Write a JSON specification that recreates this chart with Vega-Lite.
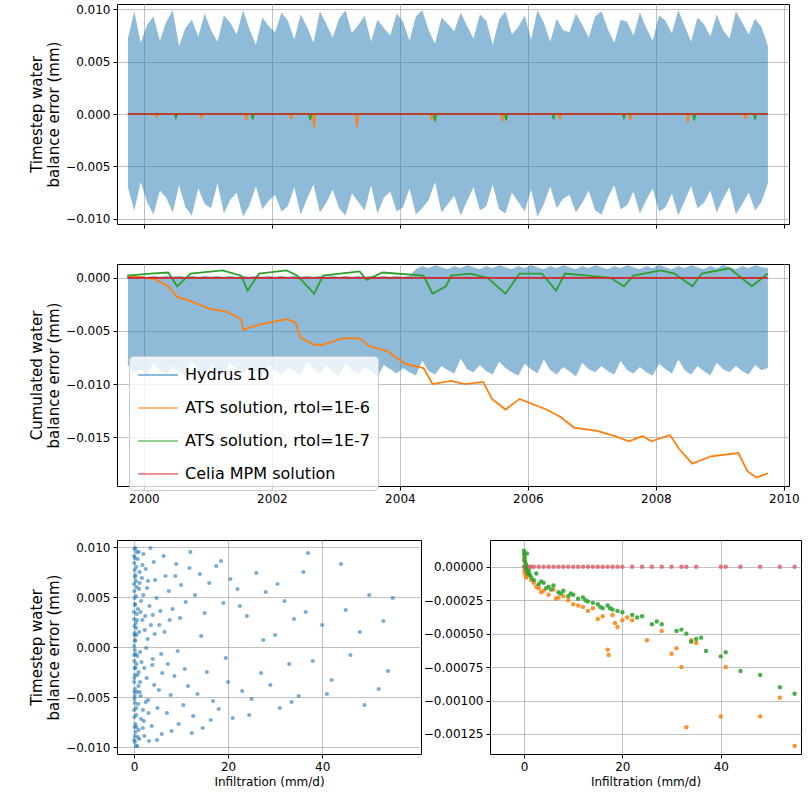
{
  "$schema": "https://vega.github.io/schema/vega-lite/v6.json",
  "background": "white",
  "padding": {"left": 29, "top": 2, "right": 4, "bottom": 5},
  "spacing": 34,
  "resolve": {"scale": {"color": "independent"}, "legend": {"color": "independent"}},
  "config": {
    "font": "DejaVu Sans",
    "view": {"stroke": "black", "strokeWidth": 1},
    "axis": {"gridColor": "#b0b0b0", "gridWidth": 0.8, "domain": false, "tickColor": "black", "labelColor": "black", "labelFontSize": 12, "titleFontSize": 15, "titleFontWeight": "normal", "titleColor": "black", "labelPadding": 3, "tickSize": 4}
  },
  "datasets": {
    "hyd": [
      {"t":1999.75,"a":-0.0070,"b":0.0072,"c":-0.0082,"d":0.0002},{"t":1999.85,"a":-0.0092,"b":0.0098,"c":-0.0090,"d":0.0001},{"t":1999.95,"a":-0.0065,"b":0.0068,"c":-0.0086,"d":0.0002},{"t":2000.05,"a":-0.0084,"b":0.0085,"c":-0.0093,"d":0.0001},{"t":2000.15,"a":-0.0096,"b":0.0093,"c":-0.0080,"d":0.0002},
      {"t":2000.25,"a":-0.0073,"b":0.0070,"c":-0.0088,"d":0.0001},{"t":2000.35,"a":-0.0080,"b":0.0088,"c":-0.0091,"d":0.0002},{"t":2000.45,"a":-0.0094,"b":0.0099,"c":-0.0084,"d":0.0001},{"t":2000.55,"a":-0.0068,"b":0.0065,"c":-0.0089,"d":0.0002},{"t":2000.65,"a":-0.0089,"b":0.0082,"c":-0.0092,"d":0.0001},
      {"t":2000.75,"a":-0.0097,"b":0.0090,"c":-0.0079,"d":0.0002},{"t":2000.85,"a":-0.0071,"b":0.0074,"c":-0.0087,"d":0.0001},{"t":2000.95,"a":-0.0086,"b":0.0096,"c":-0.0090,"d":0.0002},{"t":2001.05,"a":-0.0090,"b":0.0080,"c":-0.0083,"d":0.0001},{"t":2001.15,"a":-0.0066,"b":0.0069,"c":-0.0088,"d":0.0002},
      {"t":2001.25,"a":-0.0095,"b":0.0094,"c":-0.0092,"d":0.0001},{"t":2001.35,"a":-0.0082,"b":0.0087,"c":-0.0081,"d":0.0002},{"t":2001.45,"a":-0.0075,"b":0.0076,"c":-0.0086,"d":0.0001},{"t":2001.55,"a":-0.0098,"b":0.0099,"c":-0.0090,"d":0.0002},{"t":2001.65,"a":-0.0087,"b":0.0081,"c":-0.0084,"d":0.0001},
      {"t":2001.75,"a":-0.0069,"b":0.0066,"c":-0.0089,"d":0.0002},{"t":2001.85,"a":-0.0091,"b":0.0092,"c":-0.0093,"d":0.0001},{"t":2001.95,"a":-0.0083,"b":0.0084,"c":-0.0082,"d":0.0002},{"t":2002.05,"a":-0.0077,"b":0.0078,"c":-0.0087,"d":0.0001},{"t":2002.15,"a":-0.0093,"b":0.0097,"c":-0.0091,"d":0.0002},
      {"t":2002.25,"a":-0.0088,"b":0.0089,"c":-0.0085,"d":0.0001},{"t":2002.35,"a":-0.0070,"b":0.0071,"c":-0.0088,"d":0.0002},{"t":2002.45,"a":-0.0096,"b":0.0095,"c":-0.0092,"d":0.0001},{"t":2002.55,"a":-0.0081,"b":0.0083,"c":-0.0080,"d":0.0002},{"t":2002.65,"a":-0.0067,"b":0.0068,"c":-0.0086,"d":0.0001},
      {"t":2002.75,"a":-0.0094,"b":0.0098,"c":-0.0090,"d":0.0002},{"t":2002.85,"a":-0.0085,"b":0.0086,"c":-0.0083,"d":0.0001},{"t":2002.95,"a":-0.0072,"b":0.0073,"c":-0.0089,"d":0.0002},{"t":2003.05,"a":-0.0090,"b":0.0091,"c":-0.0092,"d":0.0001},{"t":2003.15,"a":-0.0097,"b":0.0099,"c":-0.0081,"d":0.0002},
      {"t":2003.25,"a":-0.0076,"b":0.0077,"c":-0.0087,"d":0.0001},{"t":2003.35,"a":-0.0084,"b":0.0085,"c":-0.0091,"d":0.0002},{"t":2003.45,"a":-0.0092,"b":0.0094,"c":-0.0084,"d":0.0001},{"t":2003.55,"a":-0.0068,"b":0.0069,"c":-0.0088,"d":0.0002},{"t":2003.65,"a":-0.0095,"b":0.0090,"c":-0.0093,"d":0.0001},
      {"t":2003.75,"a":-0.0080,"b":0.0082,"c":-0.0082,"d":0.0002},{"t":2003.85,"a":-0.0074,"b":0.0075,"c":-0.0086,"d":0.0001},{"t":2003.95,"a":-0.0093,"b":0.0096,"c":-0.0090,"d":0.0002},{"t":2004.05,"a":-0.0089,"b":0.0088,"c":-0.0085,"d":0.0001},{"t":2004.15,"a":-0.0071,"b":0.0070,"c":-0.0089,"d":0.0002},
      {"t":2004.25,"a":-0.0096,"b":0.0093,"c":-0.0092,"d":0.0008},{"t":2004.35,"a":-0.0090,"b":0.0099,"c":-0.0078,"d":0.0011},{"t":2004.45,"a":-0.0082,"b":0.0080,"c":-0.0088,"d":0.0009},{"t":2004.55,"a":-0.0065,"b":0.0067,"c":-0.0091,"d":0.0012},{"t":2004.65,"a":-0.0094,"b":0.0092,"c":-0.0083,"d":0.0010},
      {"t":2004.75,"a":-0.0086,"b":0.0086,"c":-0.0087,"d":0.0008},{"t":2004.85,"a":-0.0078,"b":0.0079,"c":-0.0090,"d":0.0011},{"t":2004.95,"a":-0.0097,"b":0.0097,"c":-0.0076,"d":0.0009},{"t":2005.05,"a":-0.0083,"b":0.0084,"c":-0.0086,"d":0.0012},{"t":2005.15,"a":-0.0070,"b":0.0072,"c":-0.0089,"d":0.0010},
      {"t":2005.25,"a":-0.0092,"b":0.0095,"c":-0.0082,"d":0.0008},{"t":2005.35,"a":-0.0088,"b":0.0089,"c":-0.0088,"d":0.0011},{"t":2005.45,"a":-0.0067,"b":0.0066,"c":-0.0091,"d":0.0009},{"t":2005.55,"a":-0.0091,"b":0.0090,"c":-0.0079,"d":0.0012},{"t":2005.65,"a":-0.0095,"b":0.0098,"c":-0.0085,"d":0.0010},
      {"t":2005.75,"a":-0.0075,"b":0.0076,"c":-0.0089,"d":0.0008},{"t":2005.85,"a":-0.0084,"b":0.0083,"c":-0.0092,"d":0.0011},{"t":2005.95,"a":-0.0093,"b":0.0094,"c":-0.0081,"d":0.0009},{"t":2006.05,"a":-0.0072,"b":0.0071,"c":-0.0086,"d":0.0012},{"t":2006.15,"a":-0.0098,"b":0.0099,"c":-0.0090,"d":0.0010},
      {"t":2006.25,"a":-0.0086,"b":0.0087,"c":-0.0077,"d":0.0008},{"t":2006.35,"a":-0.0069,"b":0.0069,"c":-0.0087,"d":0.0011},{"t":2006.45,"a":-0.0090,"b":0.0091,"c":-0.0091,"d":0.0009},{"t":2006.55,"a":-0.0081,"b":0.0080,"c":-0.0084,"d":0.0012},{"t":2006.65,"a":-0.0077,"b":0.0078,"c":-0.0088,"d":0.0010},
      {"t":2006.75,"a":-0.0094,"b":0.0096,"c":-0.0093,"d":0.0008},{"t":2006.85,"a":-0.0085,"b":0.0085,"c":-0.0080,"d":0.0011},{"t":2006.95,"a":-0.0073,"b":0.0073,"c":-0.0086,"d":0.0009},{"t":2007.05,"a":-0.0092,"b":0.0093,"c":-0.0089,"d":0.0012},{"t":2007.15,"a":-0.0096,"b":0.0098,"c":-0.0083,"d":0.0010},
      {"t":2007.25,"a":-0.0080,"b":0.0081,"c":-0.0088,"d":0.0008},{"t":2007.35,"a":-0.0068,"b":0.0068,"c":-0.0091,"d":0.0011},{"t":2007.45,"a":-0.0091,"b":0.0090,"c":-0.0078,"d":0.0009},{"t":2007.55,"a":-0.0087,"b":0.0088,"c":-0.0087,"d":0.0012},{"t":2007.65,"a":-0.0074,"b":0.0075,"c":-0.0090,"d":0.0010},
      {"t":2007.75,"a":-0.0095,"b":0.0097,"c":-0.0084,"d":0.0008},{"t":2007.85,"a":-0.0082,"b":0.0082,"c":-0.0089,"d":0.0011},{"t":2007.95,"a":-0.0071,"b":0.0070,"c":-0.0092,"d":0.0009},{"t":2008.05,"a":-0.0093,"b":0.0094,"c":-0.0081,"d":0.0012},{"t":2008.15,"a":-0.0089,"b":0.0089,"c":-0.0086,"d":0.0010},
      {"t":2008.25,"a":-0.0076,"b":0.0077,"c":-0.0090,"d":0.0008},{"t":2008.35,"a":-0.0097,"b":0.0099,"c":-0.0077,"d":0.0011},{"t":2008.45,"a":-0.0083,"b":0.0084,"c":-0.0087,"d":0.0009},{"t":2008.55,"a":-0.0069,"b":0.0069,"c":-0.0091,"d":0.0012},{"t":2008.65,"a":-0.0090,"b":0.0092,"c":-0.0083,"d":0.0010},
      {"t":2008.75,"a":-0.0085,"b":0.0086,"c":-0.0088,"d":0.0008},{"t":2008.85,"a":-0.0073,"b":0.0074,"c":-0.0092,"d":0.0011},{"t":2008.95,"a":-0.0094,"b":0.0095,"c":-0.0080,"d":0.0009},{"t":2009.05,"a":-0.0081,"b":0.0080,"c":-0.0086,"d":0.0012},{"t":2009.15,"a":-0.0070,"b":0.0072,"c":-0.0089,"d":0.0010},
      {"t":2009.25,"a":-0.0096,"b":0.0098,"c":-0.0083,"d":0.0008},{"t":2009.35,"a":-0.0086,"b":0.0087,"c":-0.0088,"d":0.0011},{"t":2009.45,"a":-0.0075,"b":0.0076,"c":-0.0091,"d":0.0009},{"t":2009.55,"a":-0.0092,"b":0.0091,"c":-0.0082,"d":0.0012},{"t":2009.65,"a":-0.0084,"b":0.0083,"c":-0.0087,"d":0.0010},
      {"t":2009.75,"a":-0.0066,"b":0.0065,"c":-0.0085,"d":0.0009}
    ],
    "ts": [
      {"t":1999.75,"s":"o","v":0},{"t":2000.18,"s":"o","v":0},{"t":2000.2,"s":"o","v":-0.0003},{"t":2000.22,"s":"o","v":0},{"t":2000.88,"s":"o","v":0},{"t":2000.9,"s":"o","v":-0.0004},{"t":2000.92,"s":"o","v":0},{"t":2001.58,"s":"o","v":0},{"t":2001.6,"s":"o","v":-0.0006},{"t":2001.62,"s":"o","v":0},{"t":2002.28,"s":"o","v":0},{"t":2002.3,"s":"o","v":-0.0005},{"t":2002.32,"s":"o","v":0},{"t":2002.64,"s":"o","v":0},{"t":2002.66,"s":"o","v":-0.0013},{"t":2002.68,"s":"o","v":0},{"t":2003.31,"s":"o","v":0},{"t":2003.33,"s":"o","v":-0.0012},{"t":2003.35,"s":"o","v":0},{"t":2004.48,"s":"o","v":0},{"t":2004.5,"s":"o","v":-0.0006},{"t":2004.52,"s":"o","v":0},{"t":2005.58,"s":"o","v":0},{"t":2005.6,"s":"o","v":-0.0007},{"t":2005.62,"s":"o","v":0},{"t":2006.48,"s":"o","v":0},{"t":2006.5,"s":"o","v":-0.0005},{"t":2006.52,"s":"o","v":0},{"t":2007.58,"s":"o","v":0},{"t":2007.6,"s":"o","v":-0.0006},{"t":2007.62,"s":"o","v":0},{"t":2008.48,"s":"o","v":0},{"t":2008.5,"s":"o","v":-0.0008},{"t":2008.52,"s":"o","v":0},{"t":2009.38,"s":"o","v":0},{"t":2009.4,"s":"o","v":-0.0005},{"t":2009.42,"s":"o","v":0},{"t":2009.75,"s":"o","v":0},
      {"t":1999.75,"s":"g","v":0},{"t":2000.48,"s":"g","v":0},{"t":2000.5,"s":"g","v":-0.0004},{"t":2000.52,"s":"g","v":0},{"t":2001.68,"s":"g","v":0},{"t":2001.7,"s":"g","v":-0.0005},{"t":2001.72,"s":"g","v":0},{"t":2002.58,"s":"g","v":0},{"t":2002.6,"s":"g","v":-0.0006},{"t":2002.62,"s":"g","v":0},{"t":2004.53,"s":"g","v":0},{"t":2004.55,"s":"g","v":-0.0007},{"t":2004.57,"s":"g","v":0},{"t":2005.64,"s":"g","v":0},{"t":2005.66,"s":"g","v":-0.0006},{"t":2005.68,"s":"g","v":0},{"t":2006.38,"s":"g","v":0},{"t":2006.4,"s":"g","v":-0.0005},{"t":2006.42,"s":"g","v":0},{"t":2007.48,"s":"g","v":0},{"t":2007.5,"s":"g","v":-0.0004},{"t":2007.52,"s":"g","v":0},{"t":2008.58,"s":"g","v":0},{"t":2008.6,"s":"g","v":-0.0006},{"t":2008.62,"s":"g","v":0},{"t":2009.53,"s":"g","v":0},{"t":2009.55,"s":"g","v":-0.0005},{"t":2009.57,"s":"g","v":0},{"t":2009.75,"s":"g","v":0},
      {"t":1999.75,"s":"r","v":0},{"t":2009.75,"s":"r","v":0}
    ],
    "cum": [
      {"t":1999.74,"s":"ATS solution, rtol=1E-6","v":0.0002},{"t":2000.16,"s":"ATS solution, rtol=1E-6","v":-0.0001},{"t":2000.38,"s":"ATS solution, rtol=1E-6","v":-0.0008},{"t":2000.52,"s":"ATS solution, rtol=1E-6","v":-0.0018},{"t":2000.73,"s":"ATS solution, rtol=1E-6","v":-0.0022},{"t":2001.02,"s":"ATS solution, rtol=1E-6","v":-0.0029},{"t":2001.3,"s":"ATS solution, rtol=1E-6","v":-0.0032},{"t":2001.52,"s":"ATS solution, rtol=1E-6","v":-0.0039},{"t":2001.55,"s":"ATS solution, rtol=1E-6","v":-0.0049},{"t":2001.8,"s":"ATS solution, rtol=1E-6","v":-0.0044},{"t":2002.23,"s":"ATS solution, rtol=1E-6","v":-0.0039},{"t":2002.37,"s":"ATS solution, rtol=1E-6","v":-0.0042},{"t":2002.44,"s":"ATS solution, rtol=1E-6","v":-0.0056},{"t":2002.66,"s":"ATS solution, rtol=1E-6","v":-0.0063},{"t":2002.8,"s":"ATS solution, rtol=1E-6","v":-0.0063},{"t":2003.09,"s":"ATS solution, rtol=1E-6","v":-0.0057},{"t":2003.37,"s":"ATS solution, rtol=1E-6","v":-0.0057},{"t":2003.51,"s":"ATS solution, rtol=1E-6","v":-0.0064},{"t":2003.8,"s":"ATS solution, rtol=1E-6","v":-0.0069},{"t":2004.08,"s":"ATS solution, rtol=1E-6","v":-0.0081},{"t":2004.37,"s":"ATS solution, rtol=1E-6","v":-0.0085},{"t":2004.51,"s":"ATS solution, rtol=1E-6","v":-0.0100},{"t":2004.8,"s":"ATS solution, rtol=1E-6","v":-0.0097},{"t":2005.01,"s":"ATS solution, rtol=1E-6","v":-0.0100},{"t":2005.3,"s":"ATS solution, rtol=1E-6","v":-0.0098},{"t":2005.44,"s":"ATS solution, rtol=1E-6","v":-0.0114},{"t":2005.65,"s":"ATS solution, rtol=1E-6","v":-0.0124},{"t":2005.87,"s":"ATS solution, rtol=1E-6","v":-0.0114},{"t":2006.29,"s":"ATS solution, rtol=1E-6","v":-0.0124},{"t":2006.51,"s":"ATS solution, rtol=1E-6","v":-0.0131},{"t":2006.72,"s":"ATS solution, rtol=1E-6","v":-0.0141},{"t":2007.08,"s":"ATS solution, rtol=1E-6","v":-0.0144},{"t":2007.36,"s":"ATS solution, rtol=1E-6","v":-0.0149},{"t":2007.58,"s":"ATS solution, rtol=1E-6","v":-0.0154},{"t":2007.79,"s":"ATS solution, rtol=1E-6","v":-0.0149},{"t":2007.93,"s":"ATS solution, rtol=1E-6","v":-0.0154},{"t":2008.22,"s":"ATS solution, rtol=1E-6","v":-0.0148},{"t":2008.36,"s":"ATS solution, rtol=1E-6","v":-0.0161},{"t":2008.57,"s":"ATS solution, rtol=1E-6","v":-0.0175},{"t":2008.86,"s":"ATS solution, rtol=1E-6","v":-0.0168},{"t":2009.29,"s":"ATS solution, rtol=1E-6","v":-0.0165},{"t":2009.43,"s":"ATS solution, rtol=1E-6","v":-0.0182},{"t":2009.57,"s":"ATS solution, rtol=1E-6","v":-0.0188},{"t":2009.75,"s":"ATS solution, rtol=1E-6","v":-0.0184},
      {"t":1999.74,"s":"ATS solution, rtol=1E-7","v":0.0002},{"t":2000.1,"s":"ATS solution, rtol=1E-7","v":0.0004},{"t":2000.38,"s":"ATS solution, rtol=1E-7","v":0.0005},{"t":2000.52,"s":"ATS solution, rtol=1E-7","v":-0.0008},{"t":2000.73,"s":"ATS solution, rtol=1E-7","v":0.0004},{"t":2001.23,"s":"ATS solution, rtol=1E-7","v":0.0007},{"t":2001.52,"s":"ATS solution, rtol=1E-7","v":0.0002},{"t":2001.62,"s":"ATS solution, rtol=1E-7","v":-0.0012},{"t":2001.8,"s":"ATS solution, rtol=1E-7","v":0.0004},{"t":2002.23,"s":"ATS solution, rtol=1E-7","v":0.0007},{"t":2002.4,"s":"ATS solution, rtol=1E-7","v":0.0002},{"t":2002.66,"s":"ATS solution, rtol=1E-7","v":-0.0015},{"t":2002.8,"s":"ATS solution, rtol=1E-7","v":0.0002},{"t":2003.37,"s":"ATS solution, rtol=1E-7","v":0.0006},{"t":2003.48,"s":"ATS solution, rtol=1E-7","v":-0.0002},{"t":2003.73,"s":"ATS solution, rtol=1E-7","v":0.0005},{"t":2004.37,"s":"ATS solution, rtol=1E-7","v":0.0002},{"t":2004.51,"s":"ATS solution, rtol=1E-7","v":-0.0015},{"t":2004.72,"s":"ATS solution, rtol=1E-7","v":-0.0008},{"t":2004.8,"s":"ATS solution, rtol=1E-7","v":0.0002},{"t":2005.1,"s":"ATS solution, rtol=1E-7","v":0.0004},{"t":2005.37,"s":"ATS solution, rtol=1E-7","v":0.0},{"t":2005.65,"s":"ATS solution, rtol=1E-7","v":-0.0015},{"t":2005.87,"s":"ATS solution, rtol=1E-7","v":0.0004},{"t":2006.22,"s":"ATS solution, rtol=1E-7","v":0.0004},{"t":2006.44,"s":"ATS solution, rtol=1E-7","v":-0.0012},{"t":2006.58,"s":"ATS solution, rtol=1E-7","v":0.0004},{"t":2006.94,"s":"ATS solution, rtol=1E-7","v":0.0002},{"t":2007.29,"s":"ATS solution, rtol=1E-7","v":0.0},{"t":2007.5,"s":"ATS solution, rtol=1E-7","v":-0.0008},{"t":2007.65,"s":"ATS solution, rtol=1E-7","v":0.0002},{"t":2008.08,"s":"ATS solution, rtol=1E-7","v":0.0007},{"t":2008.29,"s":"ATS solution, rtol=1E-7","v":0.0004},{"t":2008.57,"s":"ATS solution, rtol=1E-7","v":-0.0008},{"t":2008.72,"s":"ATS solution, rtol=1E-7","v":0.0004},{"t":2009.15,"s":"ATS solution, rtol=1E-7","v":0.0009},{"t":2009.5,"s":"ATS solution, rtol=1E-7","v":-0.0008},{"t":2009.75,"s":"ATS solution, rtol=1E-7","v":0.0004},
      {"t":1999.74,"s":"Celia MPM solution","v":0},{"t":2009.75,"s":"Celia MPM solution","v":0}
    ],
    "sc": [
      {"x":0.1,"y":0.0098},{"x":0.2,"y":-0.0095},{"x":0.3,"y":0.0072},{"x":0.5,"y":-0.0068},{"x":0.4,"y":0.0051},{"x":0.2,"y":-0.0042},{"x":0.6,"y":0.0033},{"x":0.3,"y":-0.0021},{"x":0.1,"y":0.0012},{"x":0.7,"y":-0.0009},{"x":0.8,"y":0.0088},{"x":1,"y":-0.0083},{"x":1.2,"y":0.0064},{"x":0.9,"y":-0.0057},{"x":1.5,"y":0.0046},{"x":1.3,"y":-0.0035},{"x":1.8,"y":0.0027},{"x":1.6,"y":-0.0015},{"x":2,"y":0.0093},{"x":2.2,"y":-0.0089},{"x":2.5,"y":0.0078},{"x":2.1,"y":-0.0074},{"x":2.8,"y":0.0059},{"x":3,"y":-0.0053},{"x":3.3,"y":0.0041},{"x":2.7,"y":-0.0031},{"x":3.6,"y":0.0022},{"x":4,"y":-0.0012},{"x":4.2,"y":0.0085},{"x":3.8,"y":-0.0079},{"x":4.5,"y":0.0067},{"x":5,"y":-0.0061},{"x":4.8,"y":0.0049},{"x":5.3,"y":-0.0043},{"x":5.6,"y":0.0036},{"x":6,"y":-0.0026},{"x":6.3,"y":0.0091},{"x":5.9,"y":-0.0087},{"x":6.7,"y":0.0071},{"x":7,"y":-0.0066},{"x":7.4,"y":0.0056},{"x":7.8,"y":-0.0048},{"x":8.2,"y":0.0038},{"x":8.6,"y":-0.0029},{"x":9,"y":0.0083},{"x":9.5,"y":-0.0077},{"x":10,"y":0.0062},{"x":10.5,"y":-0.0058},{"x":11,"y":0.0045},{"x":11.5,"y":-0.0039},{"x":12,"y":0.0095},{"x":12.6,"y":-0.0069},{"x":13,"y":0.0052},{"x":13.5,"y":-0.0047},{"x":14,"y":0.0073},{"x":14.6,"y":-0.0081},{"x":15,"y":0.0034},{"x":15.5,"y":-0.0025},{"x":16,"y":0.0064},{"x":16.8,"y":-0.0054},{"x":17.5,"y":0.0081},{"x":18,"y":-0.0062},{"x":19,"y":0.0044},{"x":20,"y":-0.0035},{"x":20.5,"y":0.0068},{"x":21,"y":-0.0071},{"x":22,"y":0.0058},{"x":23,"y":-0.0044},{"x":24,"y":0.0031},{"x":25,"y":-0.0052},{"x":26,"y":0.0074},{"x":27,"y":-0.0026},{"x":28,"y":0.0055},{"x":29,"y":-0.0038},{"x":30,"y":0.0012},{"x":31,"y":-0.0061},{"x":32,"y":0.0046},{"x":33,"y":-0.0017},{"x":34,"y":0.0028},{"x":35,"y":-0.0049},{"x":36,"y":0.0075},{"x":37,"y":0.0094},{"x":38,"y":-0.0014},{"x":40,"y":0.0022},{"x":42,"y":-0.0033},{"x":44,"y":0.0083},{"x":46,"y":-0.0008},{"x":48,"y":0.0015},{"x":50,"y":0.0052},{"x":52,"y":-0.0042},{"x":53,"y":0.0026},{"x":55,"y":0.0049},{"x":0.05,"y":0.0001},{"x":0.15,"y":-0.0003},{"x":0.25,"y":0.0006},{"x":0.35,"y":-0.0007},{"x":0.45,"y":0.0019},{"x":0.55,"y":-0.0017},{"x":0.65,"y":0.0027},{"x":0.75,"y":-0.0028},{"x":0.85,"y":0.0038},{"x":0.95,"y":-0.0039},{"x":1.1,"y":0.0058},{"x":1.4,"y":-0.0049},{"x":1.7,"y":0.0069},{"x":1.9,"y":-0.0063},{"x":2.3,"y":0.0017},{"x":2.6,"y":-0.0001},{"x":2.9,"y":0.0008},{"x":3.2,"y":-0.0094},{"x":3.5,"y":0.0099},{"x":3.9,"y":-0.0018},{"x":4.4,"y":0.0013},{"x":4.9,"y":-0.0093},{"x":5.4,"y":0.0022},{"x":5.8,"y":-0.0007},{"x":6.5,"y":0.0015},{"x":7.2,"y":-0.0017},{"x":7.6,"y":0.0027},{"x":8,"y":-0.0084},{"x":8.8,"y":0.0071},{"x":9.3,"y":-0.0004},{"x":9.8,"y":0.0029},{"x":10.8,"y":-0.0022},{"x":11.8,"y":0.0079},{"x":12.3,"y":-0.0086},{"x":14.3,"y":0.0011},{"x":16.3,"y":-0.0073},{"x":18.5,"y":0.0086},{"x":19.5,"y":-0.0011},{"x":22.5,"y":0.0041},{"x":24.5,"y":-0.0068},{"x":27.5,"y":0.0007},{"x":30.5,"y":0.0063},{"x":33.5,"y":-0.0055},{"x":36.5,"y":0.0035},{"x":41,"y":-0.0047},{"x":45,"y":0.0037},{"x":49,"y":-0.0058},{"x":54,"y":-0.0024},{"x":0.12,"y":-0.0052},{"x":0.22,"y":0.0043},{"x":0.32,"y":-0.0085},{"x":0.42,"y":0.0066},{"x":0.18,"y":0.0089},{"x":0.28,"y":-0.0077},{"x":0.38,"y":0.0024},{"x":0.48,"y":-0.0061},{"x":0.6,"y":0.0095},{"x":0.7,"y":-0.0099},{"x":0.02,"y":0.0035},{"x":0.08,"y":-0.0031},{"x":0.3,"y":0.0099},{"x":0.4,"y":-0.0099},
      {"x":0.05,"y":0.0091},{"x":0.1,"y":0.0084},{"x":0.15,"y":0.0077},{"x":0.2,"y":0.0070},{"x":0.05,"y":0.0063},{"x":0.1,"y":0.0056},{"x":0.15,"y":0.0049},{"x":0.2,"y":0.0042},{"x":0.05,"y":0.0028},{"x":0.1,"y":0.0021},{"x":0.15,"y":0.0014},{"x":0.2,"y":0.0007},{"x":0.05,"y":-0.0008},{"x":0.1,"y":-0.0014},{"x":0.15,"y":-0.0021},{"x":0.2,"y":-0.0028},{"x":0.05,"y":-0.0035},{"x":0.1,"y":-0.0045},{"x":0.15,"y":-0.0049},{"x":0.2,"y":-0.0056},{"x":0.05,"y":-0.0063},{"x":0.1,"y":-0.0070},{"x":0.15,"y":-0.0080},{"x":0.2,"y":-0.0089},{"x":0.05,"y":-0.0093},{"x":1.0,"y":0.0095},{"x":1.2,"y":0.0075},{"x":1.4,"y":0.0035},{"x":1.1,"y":0.0015},{"x":1.3,"y":-0.0005},{"x":1.0,"y":-0.0025},{"x":1.2,"y":-0.0045},{"x":1.5,"y":-0.0072},{"x":1.1,"y":-0.0092},{"x":1.8,"y":0.0082},{"x":2.0,"y":0.0052},{"x":2.4,"y":0.0031},{"x":2.2,"y":-0.0021},{"x":2.5,"y":-0.0055},{"x":1.9,"y":-0.0081},{"x":3.0,"y":0.0066},{"x":3.1,"y":-0.0066},{"x":4.0,"y":0.0032},{"x":4.3,"y":-0.0038},{"x":0.5,"y":0.0080},{"x":0.6,"y":0.0060},{"x":0.5,"y":0.0012},{"x":0.6,"y":-0.0045},{"x":0.5,"y":-0.0080},{"x":0.8,"y":-0.0090}
    ],
    "sr": [
      {"s":"r","x":0,"y":0},{"s":"r","x":0.3,"y":0},{"s":"r","x":0.6,"y":0},{"s":"r","x":1,"y":0},{"s":"r","x":1.5,"y":0},{"s":"r","x":2,"y":0},{"s":"r","x":3,"y":0},{"s":"r","x":4,"y":0},{"s":"r","x":5,"y":0},{"s":"r","x":6,"y":0},{"s":"r","x":7,"y":0},{"s":"r","x":8,"y":0},{"s":"r","x":9,"y":0},{"s":"r","x":10,"y":0},{"s":"r","x":11,"y":0},{"s":"r","x":12,"y":0},{"s":"r","x":13,"y":0},{"s":"r","x":14,"y":0},{"s":"r","x":15,"y":0},{"s":"r","x":16,"y":0},{"s":"r","x":17,"y":0},{"s":"r","x":18,"y":0},{"s":"r","x":19,"y":0},{"s":"r","x":20,"y":0},{"s":"r","x":22,"y":0},{"s":"r","x":24,"y":0},{"s":"r","x":26,"y":0},{"s":"r","x":28,"y":0},{"s":"r","x":30,"y":0},{"s":"r","x":32,"y":0},{"s":"r","x":33,"y":0},{"s":"r","x":35,"y":0},{"s":"r","x":40,"y":0},{"s":"r","x":41,"y":0},{"s":"r","x":44,"y":0},{"s":"r","x":48,"y":0},{"s":"r","x":52,"y":0},{"s":"r","x":55,"y":0},
      {"s":"o","x":0,"y":0.00005},{"s":"o","x":0.2,"y":-0.00005},{"s":"o","x":0.5,"y":-0.00008},{"s":"o","x":1,"y":-0.00006},{"s":"o","x":2,"y":-0.00012},{"s":"o","x":3,"y":-0.00016},{"s":"o","x":4,"y":-0.00018},{"s":"o","x":5,"y":-0.00021},{"s":"o","x":6,"y":-0.00017},{"s":"o","x":7,"y":-0.00023},{"s":"o","x":8,"y":-0.00022},{"s":"o","x":9,"y":-0.00025},{"s":"o","x":10,"y":-0.00028},{"s":"o","x":12,"y":-0.0003},{"s":"o","x":14,"y":-0.00031},{"s":"o","x":15,"y":-0.00039},{"s":"o","x":16,"y":-0.00037},{"s":"o","x":17,"y":-0.00062},{"s":"o","x":17.2,"y":-0.00066},{"s":"o","x":18,"y":-0.00036},{"s":"o","x":19,"y":-0.00045},{"s":"o","x":20,"y":-0.0004},{"s":"o","x":21,"y":-0.00038},{"s":"o","x":22,"y":-0.0004},{"s":"o","x":25,"y":-0.00055},{"s":"o","x":28,"y":-0.00048},{"s":"o","x":30,"y":-0.00065},{"s":"o","x":31,"y":-0.00061},{"s":"o","x":32,"y":-0.00075},{"s":"o","x":33,"y":-0.0012},{"s":"o","x":34,"y":-0.00055},{"s":"o","x":35,"y":-0.00057},{"s":"o","x":40,"y":-0.00112},{"s":"o","x":41,"y":-0.00075},{"s":"o","x":48,"y":-0.00112},{"s":"o","x":52,"y":-0.00098},{"s":"o","x":55,"y":-0.00134},{"s":"o","x":0.1,"y":-0.00003},{"s":"o","x":0.4,"y":-0.00007},{"s":"o","x":1.5,"y":-0.00010},{"s":"o","x":2.5,"y":-0.00015},{"s":"o","x":3.5,"y":-0.00019},{"s":"o","x":6.5,"y":-0.00024},{"s":"o","x":11,"y":-0.00029},{"s":"o","x":13,"y":-0.00033},{"s":"o","x":18.5,"y":-0.00042},
      {"s":"g","x":0,"y":0.00012},{"s":"g","x":0.1,"y":0.00008},{"s":"g","x":0.2,"y":0.00004},{"s":"g","x":0.3,"y":0},{"s":"g","x":0.5,"y":-0.00002},{"s":"g","x":0.6,"y":0.0001},{"s":"g","x":0.8,"y":-0.00005},{"s":"g","x":1,"y":-0.00003},{"s":"g","x":1.5,"y":-0.00008},{"s":"g","x":2,"y":-0.0001},{"s":"g","x":2.5,"y":-0.00005},{"s":"g","x":3,"y":-0.00013},{"s":"g","x":4,"y":-0.00012},{"s":"g","x":5,"y":-0.00015},{"s":"g","x":6,"y":-0.00014},{"s":"g","x":7,"y":-0.00019},{"s":"g","x":8,"y":-0.00018},{"s":"g","x":9,"y":-0.00022},{"s":"g","x":10,"y":-0.00021},{"s":"g","x":11,"y":-0.00024},{"s":"g","x":12,"y":-0.00023},{"s":"g","x":13,"y":-0.00026},{"s":"g","x":14,"y":-0.00027},{"s":"g","x":15,"y":-0.00028},{"s":"g","x":16,"y":-0.00031},{"s":"g","x":17,"y":-0.00029},{"s":"g","x":18,"y":-0.00032},{"s":"g","x":19,"y":-0.00033},{"s":"g","x":20,"y":-0.00034},{"s":"g","x":22,"y":-0.00036},{"s":"g","x":23,"y":-0.00038},{"s":"g","x":24,"y":-0.00037},{"s":"g","x":26,"y":-0.00043},{"s":"g","x":27,"y":-0.00041},{"s":"g","x":28,"y":-0.00043},{"s":"g","x":31,"y":-0.00048},{"s":"g","x":32,"y":-0.00047},{"s":"g","x":33,"y":-0.0005},{"s":"g","x":34,"y":-0.00056},{"s":"g","x":35,"y":-0.00054},{"s":"g","x":36,"y":-0.00053},{"s":"g","x":37,"y":-0.00063},{"s":"g","x":40,"y":-0.00067},{"s":"g","x":41,"y":-0.00064},{"s":"g","x":44,"y":-0.00078},{"s":"g","x":48,"y":-0.00081},{"s":"g","x":52,"y":-0.0009},{"s":"g","x":55,"y":-0.00095},{"s":"g","x":0.05,"y":0.00010},{"s":"g","x":0.15,"y":0.00006},{"s":"g","x":0.4,"y":0.00002},{"s":"g","x":0.7,"y":-0.00004},{"s":"g","x":1.2,"y":-0.00006},{"s":"g","x":3.5,"y":-0.00011},{"s":"g","x":4.5,"y":-0.00016},{"s":"g","x":5.5,"y":-0.00017},{"s":"g","x":7.5,"y":-0.0002},{"s":"g","x":9.5,"y":-0.00020},{"s":"g","x":12.5,"y":-0.00025},{"s":"g","x":15.5,"y":-0.0003},{"s":"g","x":17.5,"y":-0.00031}
    ]
  },
  "vconcat": [
    {
      "width": 672, "height": 220,
      "layer": [
        {
          "data": {"name": "hyd"},
          "mark": {"type": "area", "color": "#1f77b4", "opacity": 0.5},
          "encoding": {
            "x": {"field": "t", "type": "quantitative", "scale": {"domain": [1999.58, 2010.08], "nice": false}, "axis": {"values": [2000, 2002, 2004, 2006, 2008, 2010], "labels": false, "title": null}},
            "y": {"field": "a", "type": "quantitative", "scale": {"domain": [-0.0105, 0.0105], "nice": false}, "axis": {"values": [-0.01, -0.005, 0, 0.005, 0.01], "format": ".3f", "title": ["Timestep water", "balance error (mm)"]}},
            "y2": {"field": "b"}
          }
        },
        {
          "data": {"name": "ts"},
          "mark": {"type": "line", "strokeWidth": 1.5},
          "encoding": {
            "x": {"field": "t", "type": "quantitative"},
            "y": {"field": "v", "type": "quantitative"},
            "detail": {"field": "s"},
            "color": {"field": "s", "type": "nominal", "scale": {"domain": ["o", "g", "r"], "range": ["#ff7f0e", "#2ca02c", "#d62728"]}, "legend": null}
          }
        }
      ]
    },
    {
      "width": 672, "height": 222,
      "layer": [
        {
          "data": {"name": "hyd"},
          "mark": {"type": "area", "opacity": 0.5},
          "encoding": {
            "x": {"field": "t", "type": "quantitative", "scale": {"domain": [1999.58, 2010.08], "nice": false}, "axis": {"values": [2000, 2002, 2004, 2006, 2008, 2010], "format": "d", "title": null}},
            "y": {"field": "c", "type": "quantitative", "scale": {"domain": [-0.0196, 0.0013], "nice": false}, "axis": {"values": [-0.02, -0.015, -0.01, -0.005, 0], "format": ".3f", "title": ["Cumulated water", "balance error (mm)"]}},
            "y2": {"field": "d"},
            "color": {"datum": "Hydrus 1D"}
          }
        },
        {
          "data": {"name": "cum"},
          "mark": {"type": "line", "strokeWidth": 1.8},
          "encoding": {
            "x": {"field": "t", "type": "quantitative"},
            "y": {"field": "v", "type": "quantitative"},
            "color": {"field": "s", "type": "nominal",
              "scale": {"domain": ["Hydrus 1D", "ATS solution, rtol=1E-6", "ATS solution, rtol=1E-7", "Celia MPM solution"], "range": ["#1f77b4", "#ff7f0e", "#2ca02c", "#d62728"]},
              "legend": {"title": null, "orient": "none", "legendX": 12, "legendY": 92, "symbolType": "M-1,0L3,0", "symbolSize": 400, "symbolStrokeWidth": 2, "labelFontSize": 16, "labelLimit": 400, "labelOffset": 26, "labelColor": "black", "rowPadding": 14, "padding": 8, "fillColor": "rgba(255,255,255,0.8)", "strokeColor": "#cccccc", "cornerRadius": 4}}
          }
        }
      ]
    },
    {
      "spacing": 0,
      "hconcat": [
        {
          "width": 304, "height": 214,
          "data": {"name": "sc"},
          "mark": {"type": "circle", "size": 18, "color": "#1f77b4", "opacity": 0.6},
          "encoding": {
            "x": {"field": "x", "type": "quantitative", "scale": {"domain": [-3.6, 61], "nice": false}, "axis": {"values": [0, 20, 40], "title": "Infiltration (mm/d)", "titleFontSize": 12}},
            "y": {"field": "y", "type": "quantitative", "scale": {"domain": [-0.0107, 0.0107], "nice": false}, "axis": {"values": [-0.01, -0.005, 0, 0.005, 0.01], "format": ".3f", "title": ["Timestep water", "balance error (mm)"]}}
          }
        },
        {
          "width": 311, "height": 214,
          "data": {"name": "sr"},
          "mark": {"type": "circle", "size": 20, "opacity": 0.85},
          "encoding": {
            "x": {"field": "x", "type": "quantitative", "scale": {"domain": [-6.9, 56.3], "nice": false}, "axis": {"values": [0, 20, 40], "title": "Infiltration (mm/d)", "titleFontSize": 12}},
            "y": {"field": "y", "type": "quantitative", "scale": {"domain": [-0.0014, 0.0002], "nice": false}, "axis": {"values": [-0.00125, -0.001, -0.00075, -0.0005, -0.00025, 0], "format": ".5f", "title": null}},
            "color": {"field": "s", "type": "nominal", "scale": {"domain": ["o", "g", "r"], "range": ["#ff7f0e", "#2ca02c", "#e0606a"]}, "legend": null},
            "order": {"field": "s", "sort": "descending"}
          }
        }
      ]
    }
  ]
}
